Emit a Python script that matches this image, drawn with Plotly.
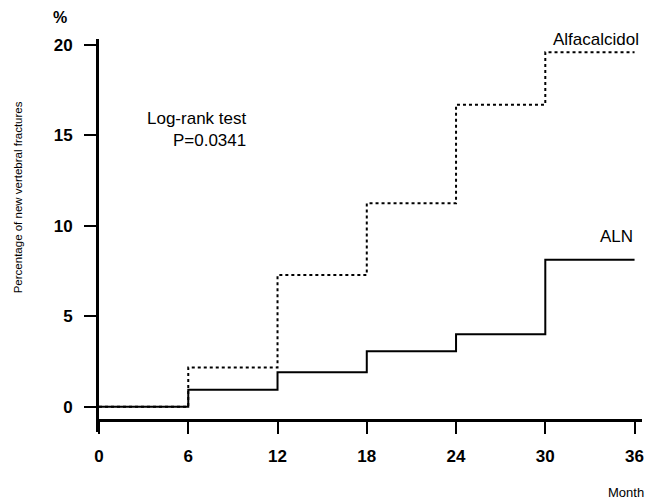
import plotly.graph_objects as go

# Data
months = [0, 6, 12, 18, 24, 30, 36]
aln_pct = [0, 0.93, 1.9, 3.06, 4.0, 8.13, 8.13]
alfa_pct = [0, 2.17, 7.28, 11.25, 16.7, 19.6, 19.6]
x_ticks = [0, 6, 12, 18, 24, 30, 36]
y_ticks = [0, 5, 10, 15, 20]

FONT = "Liberation Sans, Arial, Helvetica, sans-serif"

fig = go.Figure()
fig.add_trace(go.Scatter(
    x=months, y=alfa_pct, mode="lines", line_shape="hv",
    line=dict(color="black", width=2, dash="dot"), name="Alfacalcidol",
    showlegend=False, hoverinfo="skip"))
fig.add_trace(go.Scatter(
    x=months, y=aln_pct, mode="lines", line_shape="hv",
    line=dict(color="black", width=2), name="ALN",
    showlegend=False, hoverinfo="skip"))

W, H = 652, 503
top, bottom = 39, 432
fig.update_layout(
    width=W, height=H,
    margin=dict(l=99, r=8, t=top, b=H - bottom, pad=0),
    paper_bgcolor="white", plot_bgcolor="white",
    font=dict(family=FONT, color="black"),
    xaxis=dict(
        range=[0, 36.5], tickvals=x_ticks, ticktext=[str(v) for v in x_ticks],
        showgrid=False, zeroline=False, showline=True, linecolor="black",
        linewidth=3, ticks="outside", ticklen=12, tickwidth=2, tickcolor="black",
        anchor="free", position=(bottom - 420) / (bottom - top),
        ticklabelstandoff=8,
        tickfont=dict(family=FONT, size=17, color="black", weight="bold"),
    ),
    yaxis=dict(
        range=[-1.40, 20.33], tickvals=y_ticks, ticktext=[str(v) for v in y_ticks],
        showgrid=False, zeroline=False, showline=True, linecolor="black",
        linewidth=3, ticks="outside", ticklen=12, tickwidth=2, tickcolor="black",
        ticklabelstandoff=8,
        tickfont=dict(family=FONT, size=17, color="black", weight="bold"),
    ),
)

ann = [
    dict(text="%", x=60, y=17, size=16, bold=True),
    dict(text="Month", x=628, y=492, size=13, bold=False),
]
for a in ann:
    fig.add_annotation(
        text=a["text"], xref="paper", yref="paper",
        x=(a["x"] - 99) / (W - 99 - 8), y=(H - a["y"] - (H - bottom)) / (bottom - top),
        xanchor="center", yanchor="middle", showarrow=False,
        font=dict(family=FONT, size=a["size"], color="black",
                  weight="bold" if a["bold"] else "normal"))

# y axis title (rotated), positioned as in the reference
fig.add_annotation(
    text="Percentage of new vertebral fractures", xref="paper", yref="paper",
    x=(18 - 99) / (W - 99 - 8), y=(H - 197 - (H - bottom)) / (bottom - top),
    xanchor="center", yanchor="middle", textangle=-90, showarrow=False,
    font=dict(family=FONT, size=11.5, color="black"))

# In-plot labels
fig.add_annotation(text="Log-rank test<br>P=0.0341", xref="x", yref="y",
                   x=10.0, y=15.3, xanchor="right", yanchor="middle", align="right",
                   showarrow=False, font=dict(family=FONT, size=17, color="black"))
fig.add_annotation(text="Alfacalcidol", xref="x", yref="y",
                   x=36.4, y=20.3, xanchor="right", yanchor="middle",
                   showarrow=False, font=dict(family=FONT, size=17, color="black"))
fig.add_annotation(text="ALN", xref="x", yref="y",
                   x=36.0, y=8.8, xanchor="right", yanchor="bottom",
                   showarrow=False, font=dict(family=FONT, size=17, color="black"))

fig.write_html("out.html",
               config={"displayModeBar": False},
               post_script="document.body.style.margin='0';document.body.style.padding='0';")
